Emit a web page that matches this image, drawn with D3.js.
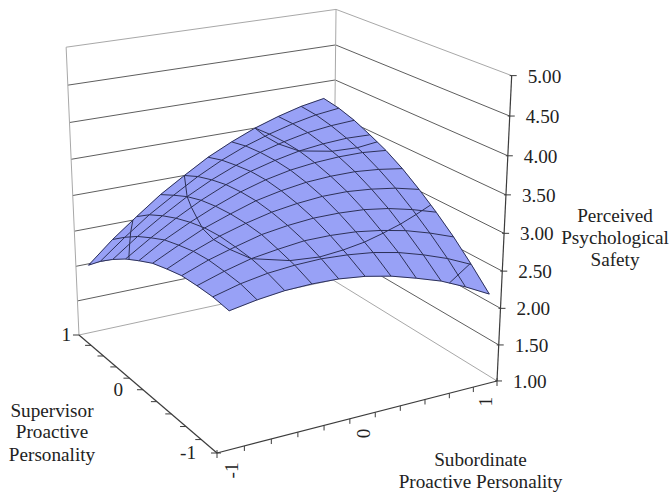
<!DOCTYPE html>
<html>
<head>
<meta charset="utf-8">
<script src="https://cdn.jsdelivr.net/npm/d3@7"></script>
<style>
	html, body { margin: 0; padding: 0; background: #fff; }
	svg { display: block; }
	text { font-family: "Liberation Serif", serif; font-size: 19.2px; fill: #222; }
</style>
</head>
<body>
<svg id="chart" width="671" height="494"></svg>
<script>
const subordinateLevels = [-1, -0.8, -0.6, -0.4, -0.2, 0, 0.2, 0.4, 0.6, 0.8, 1];
const supervisorLevels = [-1, -0.8, -0.6, -0.4, -0.2, 0, 0.2, 0.4, 0.6, 0.8, 1];
const safetyTicks = [1, 1.5, 2, 2.5, 3, 3.5, 4, 4.5, 5];
const subordinateTickLabels = [-1, 0, 1];
const supervisorTickLabels = [-1, 0, 1];
const supervisorLabelShift = [-21, -20, -8];

// Perceived safety, one row per supervisor level (-1 to 1)
const safetySupMinus10 = [2.77, 2.83, 2.87, 2.88, 2.87, 2.83, 2.76, 2.66, 2.55, 2.40, 2.23];
const safetySupMinus08 = [2.80, 2.89, 2.95, 2.98, 2.99, 2.97, 2.93, 2.86, 2.76, 2.64, 2.49];
const safetySupMinus06 = [2.80, 2.91, 3.00, 3.05, 3.09, 3.09, 3.07, 3.02, 2.95, 2.85, 2.73];
const safetySupMinus04 = [2.79, 2.92, 3.02, 3.11, 3.16, 3.19, 3.19, 3.17, 3.12, 3.04, 2.94];
const safetySupMinus02 = [2.74, 2.90, 3.03, 3.13, 3.21, 3.26, 3.29, 3.29, 3.26, 3.21, 3.13];
const safetySupZero = [2.68, 2.85, 3.01, 3.13, 3.24, 3.31, 3.36, 3.38, 3.38, 3.35, 3.30];
const safetySupPlus02 = [2.58, 2.79, 2.96, 3.11, 3.24, 3.34, 3.41, 3.45, 3.47, 3.47, 3.44];
const safetySupPlus04 = [2.47, 2.69, 2.89, 3.07, 3.22, 3.34, 3.43, 3.50, 3.54, 3.56, 3.55];
const safetySupPlus06 = [2.33, 2.58, 2.80, 3.00, 3.17, 3.31, 3.43, 3.52, 3.59, 3.63, 3.65];
const safetySupPlus08 = [2.17, 2.44, 2.69, 2.90, 3.10, 3.27, 3.41, 3.52, 3.61, 3.68, 3.72];
const safetySupPlus10 = [1.98, 2.28, 2.54, 2.79, 3.00, 3.20, 3.36, 3.50, 3.61, 3.70, 3.76];
const safetyRows = [
	safetySupMinus10, safetySupMinus08, safetySupMinus06, safetySupMinus04, safetySupMinus02, safetySupZero,
	safetySupPlus02, safetySupPlus04, safetySupPlus06, safetySupPlus08, safetySupPlus10,
];

const svg = d3.select('#chart');

// Like Excel: subordinate values sit between the ticks, supervisor values on them
const subScale = d3.scalePoint().domain(subordinateLevels).range([0, 1]).padding(0.5);
const supScale = d3.scalePoint().domain(supervisorLevels).range([0, 1]);
const safetyScale = d3.scaleLinear().domain([1, 5]).range([0, 1]);

// Perspective camera fitted to the box corners
const camera = {
	xp: 321.4, xq: -125.7, xs: -19.4, x0: 217,
	yp: -40.3, yq: -65.7, ys: -336, y0: 453,
	wp: 0.0833, wq: 0.1561, ws: -0.069,
};
const project = (p, q, s) => {
	const w = 1 + camera.wp * p + camera.wq * q + camera.ws * s;
	return [
		(camera.xp * p + camera.xq * q + camera.xs * s + camera.x0) / w,
		(camera.yp * p + camera.yq * q + camera.ys * s + camera.y0) / w,
	];
};
const line = d3.line();

const drawLine = (points, color, width) => svg.append('path')
	.attr('d', line(points)).attr('fill', 'none')
	.attr('stroke', color).attr('stroke-width', width);

// Walls
safetyTicks.forEach((tick) => {
	const s = safetyScale(tick);
	const isEdge = tick === 1 || tick === 5;
	drawLine([project(0, 1, s), project(1, 1, s)], isEdge ? '#a8a8a8' : '#5e5e5e', 1);
	drawLine([project(1, 1, s), project(1, 0, s)], isEdge ? '#a8a8a8' : '#5e5e5e', 1);
});
drawLine([project(0, 1, 0), project(0, 1, 1)], '#a8a8a8', 1);
drawLine([project(1, 1, 0), project(1, 1, 1)], '#a8a8a8', 1);

// Axes
drawLine([project(1, 0, 0), project(1, 0, 1)], '#3c3c3c', 1.2);
drawLine([project(0, 0, 0), project(1, 0, 0)], '#3c3c3c', 1.2);
drawLine([project(0, 0, 0), project(0, 1, 0)], '#3c3c3c', 1.2);

safetyTicks.forEach((tick) => {
	const [tx, ty] = project(1, 0, safetyScale(tick));
	drawLine([[tx - 2, ty], [tx + 5, ty]], '#3c3c3c', 1);
	svg.append('text').attr('x', tx + 16).attr('y', ty + 7).text(tick.toFixed(2));
});
d3.range(12).forEach((i) => {
	const [tx, ty] = project(i / 11, 0, 0);
	drawLine([[tx, ty - (i === 0 || i === 11 ? 3 : 0)], [tx, ty + 5]], '#3c3c3c', 1);
});
d3.range(11).forEach((j) => {
	const [tx, ty] = project(0, j / 10, 0);
	drawLine([[tx - 6, ty], [tx + (j === 0 ? 4 : 0), ty]], '#3c3c3c', 1);
});
subordinateTickLabels.forEach((level) => {
	const [tx, ty] = project(subScale(level), 0, 0);
	svg.append('text').attr('text-anchor', 'end')
		.attr('transform', `translate(${tx + 7},${ty + 13}) rotate(-90)`)
		.text(level);
});
supervisorTickLabels.forEach((level, idx) => {
	const [tx, ty] = project(0, supScale(level), 0);
	svg.append('text').attr('text-anchor', 'end')
		.attr('x', tx + supervisorLabelShift[idx]).attr('y', ty + 6)
		.text(level);
});

// Surface
const surfacePoint = (i, j) => project(
	subScale(subordinateLevels[i]), supScale(supervisorLevels[j]), safetyScale(safetyRows[j][i]),
);
const gridI = d3.range(subordinateLevels.length);
const gridJ = d3.range(supervisorLevels.length);

const cells = d3.cross(gridI.slice(0, -1), gridJ.slice(0, -1));
svg.append('g').selectAll('path').data(cells).enter().append('path')
	.attr('d', ([i, j]) => line([
		surfacePoint(i, j), surfacePoint(i + 1, j), surfacePoint(i + 1, j + 1), surfacePoint(i, j + 1),
	]) + 'Z')
	.attr('fill', '#98a1f6').attr('stroke', '#98a1f6').attr('stroke-width', 0.5);

gridJ.forEach((j) => drawLine(gridI.map(i => surfacePoint(i, j)), '#2c3058', 1));
gridI.forEach((i) => drawLine(gridJ.map(j => surfacePoint(i, j)), '#2c3058', 1));

// Band borders where the surface crosses a major unit
const crossing = (level, i0, j0, i1, j1) => {
	const a = safetyRows[j0][i0];
	const b = safetyRows[j1][i1];
	if ((a < level) === (b < level)) return null;
	const t = (level - a) / (b - a);
	const pA = subScale(subordinateLevels[i0]);
	const pB = subScale(subordinateLevels[i1]);
	const qA = supScale(supervisorLevels[j0]);
	const qB = supScale(supervisorLevels[j1]);
	return project(pA + (pB - pA) * t, qA + (qB - qA) * t, safetyScale(level));
};
safetyTicks.forEach((level) => {
	cells.forEach(([i, j]) => {
		const hits = [
			crossing(level, i, j, i + 1, j),
			crossing(level, i + 1, j, i + 1, j + 1),
			crossing(level, i + 1, j + 1, i, j + 1),
			crossing(level, i, j + 1, i, j),
		].filter(Boolean);
		if (hits.length >= 2) drawLine(hits.slice(0, 2), '#2c3058', 1);
		if (hits.length === 4) drawLine(hits.slice(2), '#2c3058', 1);
	});
});

// Axis titles
const titles = [
	{ x: 615, y: 222, text: 'Perceived' },
	{ x: 615, y: 244, text: 'Psychological' },
	{ x: 615, y: 266, text: 'Safety' },
	{ x: 52, y: 417, text: 'Supervisor' },
	{ x: 52, y: 438, text: 'Proactive' },
	{ x: 52, y: 461, text: 'Personality' },
	{ x: 480.5, y: 466, text: 'Subordinate' },
	{ x: 480.5, y: 488, text: 'Proactive Personality' },
];
svg.append('g').selectAll('text').data(titles).enter().append('text')
	.attr('text-anchor', 'middle').attr('x', d => d.x).attr('y', d => d.y).text(d => d.text);
</script>
</body>
</html>
